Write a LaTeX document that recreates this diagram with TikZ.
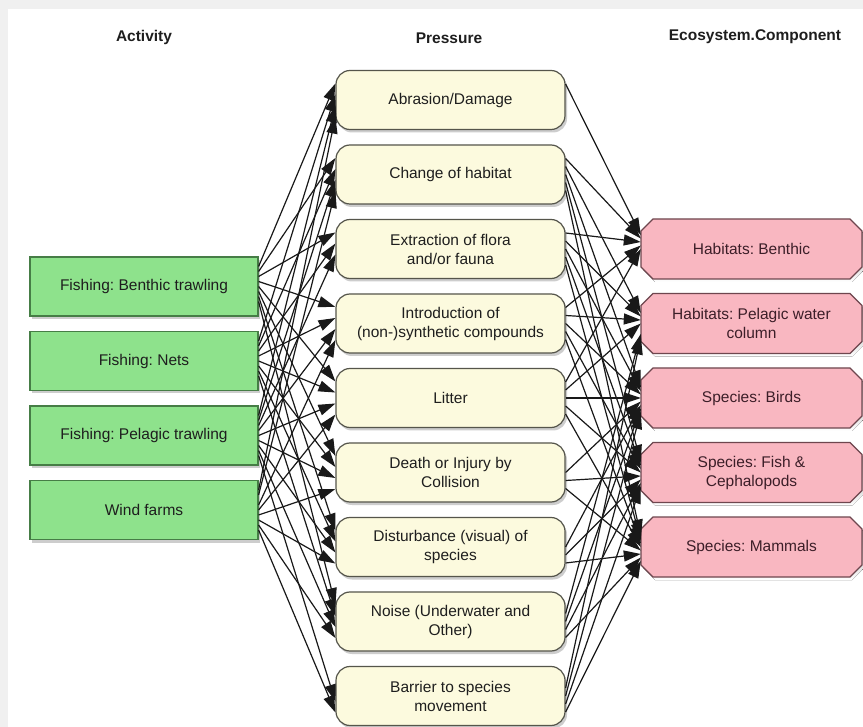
\documentclass[tikz,border=0pt]{standalone}
\usepackage{fontspec}
\setmainfont{Liberation Sans}
\usetikzlibrary{arrows.meta,shadows}

\definecolor{pagegray}{RGB}{240,240,240}
\definecolor{actfill}{RGB}{142,226,140}
\definecolor{actdraw}{RGB}{70,125,70}
\definecolor{prsfill}{RGB}{252,250,222}
\definecolor{prsdraw}{RGB}{85,85,75}
\definecolor{ecofill}{RGB}{249,183,193}
\definecolor{ecodraw}{RGB}{110,70,78}
\definecolor{txt}{RGB}{30,30,30}
\definecolor{ecotxt}{RGB}{60,30,40}
\definecolor{wirecol}{RGB}{25,25,25}
\definecolor{shade}{RGB}{205,205,205}

% pink component box: chamfered outline, shadow, and a named text node
\newcommand{\ecobox}[3]{%
  \fill[shade] (655,#2-27) -- (852,#2-27) -- (864,#2-15) -- (864,#2+21) -- (852,#2+33)
    -- (655,#2+33) -- (643,#2+21) -- (643,#2-15) -- cycle;
  \draw[ecodraw, fill=ecofill, line width=1.2pt] (653,#2-30) -- (850,#2-30) -- (862,#2-18)
    -- (862,#2+18) -- (850,#2+30) -- (653,#2+30) -- (641,#2+18) -- (641,#2-18) -- cycle;
  \node[ecotext] (#1) at (751.5,#2) {#3};}

\begin{document}
\frenchspacing
\begin{tikzpicture}[x=1pt, y=-1pt,
  font=\fontsize{15.5}{19}\selectfont, text=txt,
  head/.style={font=\fontsize{15.5}{19}\selectfont\bfseries},
  actbox/.style={draw=actdraw, fill=actfill, line width=1.2pt, rectangle,
    minimum width=228pt, minimum height=59pt, inner sep=0pt, align=center,
    drop shadow={shadow xshift=2pt, shadow yshift=-3pt, fill=shade, opacity=1}},
  prsbox/.style={draw=prsdraw, fill=prsfill, line width=1.2pt, rectangle,
    rounded corners=14pt, minimum width=229pt, minimum height=59pt, inner sep=0pt,
    align=center,
    drop shadow={shadow xshift=2pt, shadow yshift=-3pt, fill=shade, opacity=1}},
  ecotext/.style={rectangle, minimum width=221pt, minimum height=60pt, inner sep=0pt,
    align=center, text=ecotxt},
  wire/.style={draw=wirecol, line width=1.2pt, -{Triangle[length=17pt,width=11pt]}}]

\useasboundingbox (0,0) rectangle (863,727);
\fill[pagegray] (0,0) rectangle (863,727);
\fill[white] (8,9) rectangle (863,727);

% column headings
\node[head] (hA) at (144,37) {Activity};
\node[head] (hP) at (449,38) {Pressure};
\node[head] (hE) at (755,37) {Ecosystem.Component};

% activities
\node[actbox] (A1) at (144,286.5) {Fishing: Benthic trawling};
\node[actbox] (A2) at (144,361)   {Fishing: Nets};
\node[actbox] (A3) at (144,435.5) {Fishing: Pelagic trawling};
\node[actbox] (A4) at (144,510)   {Wind farms};

% pressures
\node[prsbox] (P1) at (450.5,100)   {Abrasion/Damage};
\node[prsbox] (P2) at (450.5,174.5) {Change of habitat};
\node[prsbox] (P3) at (450.5,249)   {Extraction of flora\\and/or fauna};
\node[prsbox] (P4) at (450.5,323.5) {Introduction of\\(non-)synthetic compounds};
\node[prsbox] (P5) at (450.5,398)   {Litter};
\node[prsbox] (P6) at (450.5,472.5) {Death or Injury by\\Collision};
\node[prsbox] (P7) at (450.5,547)   {Disturbance (visual) of\\species};
\node[prsbox] (P8) at (450.5,621.5) {Noise (Underwater and\\Other)};
\node[prsbox] (P9) at (450.5,696)   {Barrier to species\\movement};

% ecosystem components
\ecobox{E1}{249}{Habitats: Benthic}
\ecobox{E2}{323.5}{Habitats: Pelagic water\\column}
\ecobox{E3}{398}{Species: Birds}
\ecobox{E4}{472.5}{Species: Fish \&\\Cephalopods}
\ecobox{E5}{547}{Species: Mammals}

% activity -> pressure links
\foreach \s/\t in {1/1,2/1,3/1,4/1, 1/2,2/2,3/2,4/2, 1/3,2/3,3/3,
                   1/4,2/4,3/4,4/4, 1/5,2/5,3/5,4/5, 1/6,2/6,3/6,4/6,
                   1/7,2/7,3/7,4/7, 1/8,2/8,3/8,4/8, 3/9,4/9}
  \draw[wire] ([yshift={-(\t-5)*5}]A\s.east) -- ([yshift={-(\s-2.5)*11}]P\t.west);

% pressure -> component links
\foreach \t/\e in {1/1, 2/1,2/2,2/3,2/4,2/5, 3/1,3/2,3/3,3/4,3/5,
                   4/1,4/2,4/3,4/4,4/5, 5/1,5/2,5/3,5/4,5/5,
                   6/3,6/4,6/5, 7/3,7/4,7/5, 8/2,8/3,8/4,8/5, 9/2,9/3,9/4,9/5}
  \draw[wire] ([yshift={-(\e-3)*8}]P\t.east) -- ([yshift={-(\t-5)*3.5}]E\e.west);

\end{tikzpicture}
\end{document}
